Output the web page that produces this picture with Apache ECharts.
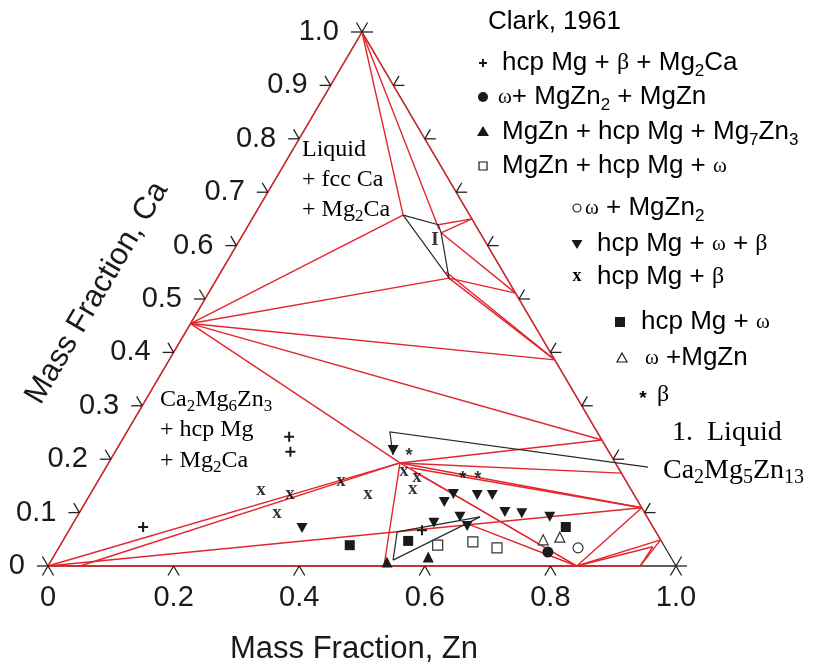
<!DOCTYPE html>
<html><head><meta charset="utf-8">
<script src="https://cdn.jsdelivr.net/npm/echarts@6/dist/echarts.min.js"></script>
<style>html,body{margin:0;padding:0;background:#fff}#c{width:822px;height:666px}</style>
</head><body><div id="c"></div>
<script>
// ---- compositions as [Zn, Ca] mass fractions ----
const leftTicks = [0, 0.1, 0.2, 0.3, 0.4, 0.5, 0.6, 0.7, 0.8, 0.9, 1.0];
const leftTickLabels = ['0', '0.1', '0.2', '0.3', '0.4', '0.5', '0.6', '0.7', '0.8', '0.9', '1.0'];
const bottomTicks = [0, 0.2, 0.4, 0.6, 0.8, 1.0];
const bottomTickLabels = ['0', '0.2', '0.4', '0.6', '0.8', '1.0'];
const rightTicks = [0, 0.1, 0.2, 0.3, 0.4, 0.5, 0.6, 0.7, 0.8, 0.9, 1.0];

const outline = [[0, 0], [1, 0], [0, 1], [0, 0]];

const redLines = [
  [[0, 1], [0, 0.454]], [[0, 0.454], [0, 0]],
  [[0, 1], [0.951, 0.049]],
  [[0, 0], [0.943, 0]],
  [[0, 1], [0.237, 0.657]],
  [[0, 1], [0.307, 0.631]],
  [[0.302, 0.639], [0.350, 0.650]],
  [[0.314, 0.624], [0.350, 0.650]],
  [[0.314, 0.624], [0.489, 0.511]],
  [[0.369, 0.539], [0.489, 0.511]],
  [[0.369, 0.539], [0.614, 0.386]],
  [[0.358, 0.551], [0.614, 0.386]],
  [[0, 0.454], [0.237, 0.657]],
  [[0, 0.454], [0.369, 0.539]],
  [[0, 0.454], [0.614, 0.386]],
  [[0, 0.454], [0.764, 0.236]],
  [[0, 0.454], [0.464, 0.193]],
  [[0, 0], [0.464, 0.193]],
  [[0.051, 0], [0.464, 0.193]],
  [[0, 0], [0.891, 0.109]],
  [[0.464, 0.193], [0.764, 0.236]],
  [[0.464, 0.193], [0.826, 0.174]],
  [[0.464, 0.193], [0.891, 0.109]],
  [[0.485, 0.184], [0.891, 0.109]],
  [[0.464, 0.193], [0.535, 0]],
  [[0.464, 0.193], [0.842, 0]],
  [[0.496, 0.176], [0.842, 0]],
  [[0.620, 0.082], [0.842, 0]],
  [[0.842, 0], [0.891, 0.109]],
  [[0.842, 0], [0.951, 0.049]],
  [[0.842, 0], [0.945, 0.036]],
  [[0.943, 0], [0.951, 0.049]],
  [[0.943, 0], [0.945, 0.036]]
];

const blackLines = [
  [[0.237, 0.657], [0.302, 0.639], [0.314, 0.624], [0.369, 0.539], [0.237, 0.657]],
  [[0.445, 0.208], [0.419, 0.251], [0.863, 0.185]],
  [[0.544, 0.011], [0.524, 0.064], [0.642, 0.092]],
  [[0.544, 0.011], [0.642, 0.092]]
];

const plusPts = [[0.263, 0.242], [0.279, 0.214], [0.115, 0.073], [0.562, 0.067]];
const circPts = [[0.783, 0.026]];
const triPts = [[0.536, 0.0075], [0.597, 0.017]];
const openSqPts = [[0.601, 0.039], [0.654, 0.045], [0.698, 0.034]];
const openCircPts = [[0.827, 0.034]];
const invTriPts = [[0.369, 0.071], [0.441, 0.217], [0.571, 0.120], [0.578, 0.135], [0.617, 0.133], [0.641, 0.133],
  [0.677, 0.101], [0.705, 0.099], [0.753, 0.092], [0.574, 0.081], [0.610, 0.092], [0.630, 0.075]];
const xPts = [[0.268, 0.142], [0.318, 0.135], [0.315, 0.099], [0.387, 0.159], [0.442, 0.135], [0.478, 0.178], [0.509, 0.144], [0.504, 0.167]];
const sqPts = [[0.461, 0.039], [0.550, 0.047], [0.788, 0.073]];
const openTriPts = [[0.764, 0.049], [0.788, 0.054]];
const starPts = [[0.472, 0.206], [0.579, 0.163], [0.603, 0.163]];

// ---- helpers ----
const SANS = '"Liberation Sans", Arial, Helvetica, sans-serif';
const SERIF = '"Liberation Serif", "Times New Roman", serif';
const RED = '#e3262c';
const INK = '#1a1a1a';
const T = p => [p[0] + p[1] / 2, p[1]];   // ternary (Zn, Ca) -> cartesian

function linesSeries(list, color, width, z) {
  return {
    type: 'lines', coordinateSystem: 'cartesian2d', polyline: true, silent: true, z: z, clip: false,
    lineStyle: { color: color, width: width, opacity: 1 },
    data: list.map(l => ({ coords: l.map(T) }))
  };
}

const L = 11;
const ux = 0.507 * L, uy = 0.862 * L;
function tickSeries(points, labels, dirs, ldx, ldy, align) {
  return {
    type: 'custom', coordinateSystem: 'cartesian2d', clip: false, silent: true, z: 6,
    encode: { x: 0, y: 1 },
    data: points,
    renderItem: function (params, api) {
      const p = api.coord([api.value(0), api.value(1)]);
      const ch = dirs.map(d => ({
        type: 'line', shape: { x1: p[0], y1: p[1], x2: p[0] + d[0], y2: p[1] + d[1] },
        style: { stroke: '#222', lineWidth: 1.3 }
      }));
      if (labels) {
        ch.push({
          type: 'text', x: p[0] + ldx, y: p[1] + ldy,
          style: { text: labels[params.dataIndex], fill: INK, fontSize: 29, fontFamily: SANS, align: align, verticalAlign: 'middle' }
        });
      }
      return { type: 'group', children: ch };
    }
  };
}

function scatter(pts, symbol, size, fill, stroke) {
  return {
    type: 'scatter', silent: true, z: 10, symbol: symbol, symbolSize: size,
    itemStyle: { color: fill, borderColor: stroke || fill, borderWidth: stroke ? 1.2 : 0, opacity: 1 },
    data: pts.map(T)
  };
}
function textScatter(pts, ch, font, fsize, offset) {
  return {
    type: 'scatter', silent: true, z: 11, symbol: 'circle', symbolSize: 1,
    itemStyle: { color: 'rgba(0,0,0,0)' },
    label: { show: true, position: 'inside', formatter: ch, fontFamily: font, fontSize: fsize, fontWeight: 'bold',
      color: '#000', textBorderWidth: 0, offset: offset },
    labelLayout: { hideOverlap: false },
    data: pts.map(T)
  };
}

// ---- legend & annotations ----
const rich = {
  t: { fontFamily: SANS, fontSize: 26, color: INK, lineHeight: 34, verticalAlign: 'middle' },
  s: { fontFamily: SANS, fontSize: 17, color: INK, lineHeight: 17, verticalAlign: 'bottom' },
  g: { fontFamily: SERIF, fontSize: 24, color: INK, lineHeight: 34, verticalAlign: 'middle' },
  w: { fontFamily: SERIF, fontSize: 21, color: INK, lineHeight: 34, verticalAlign: 'middle' },
  r: { fontFamily: SERIF, fontSize: 28, color: INK, lineHeight: 34, verticalAlign: 'middle' },
  rs: { fontFamily: SERIF, fontSize: 20, color: INK, lineHeight: 20, verticalAlign: 'bottom' },
  a: { fontFamily: SERIF, fontSize: 24, color: '#444', lineHeight: 30, verticalAlign: 'middle' },
  as: { fontFamily: SERIF, fontSize: 17, color: '#444', lineHeight: 15, verticalAlign: 'bottom' }
};
function rtext(x, y, text) {
  return { type: 'text', x: x, y: y, silent: true, z: 20,
    style: { text: text, rich: rich, verticalAlign: 'middle', align: 'left' } };
}
function sym(kind, x, y) {
  const k = { fill: INK };
  const o = { fill: '#fff', stroke: INK, lineWidth: 1.2 };
  switch (kind) {
    case 'plus': return { type: 'group', children: [
      { type: 'line', shape: { x1: x - 4, y1: y, x2: x + 4, y2: y }, style: { stroke: INK, lineWidth: 2 } },
      { type: 'line', shape: { x1: x, y1: y - 4, x2: x, y2: y + 4 }, style: { stroke: INK, lineWidth: 2 } }] };
    case 'circ': return { type: 'circle', shape: { cx: x, cy: y, r: 5 }, style: k };
    case 'tri': return { type: 'polygon', shape: { points: [[x, y - 6], [x + 6, y + 4], [x - 6, y + 4]] }, style: k };
    case 'osq': return { type: 'rect', shape: { x: x - 4, y: y - 4, width: 8, height: 8 }, style: o };
    case 'ocirc': return { type: 'circle', shape: { cx: x, cy: y, r: 4 }, style: o };
    case 'itri': return { type: 'polygon', shape: { points: [[x - 5.5, y - 4], [x + 5.5, y - 4], [x, y + 5]] }, style: k };
    case 'x': return { type: 'text', x: x, y: y - 1, style: { text: 'x', fontFamily: SERIF, fontSize: 18, fontWeight: 'bold', fill: '#000', align: 'center', verticalAlign: 'middle' } };
    case 'sq': return { type: 'rect', shape: { x: x - 5, y: y - 5, width: 10, height: 10 }, style: k };
    case 'otri': return { type: 'polygon', shape: { points: [[x, y - 5], [x + 5, y + 4], [x - 5, y + 4]] }, style: o };
    case 'star': return { type: 'text', x: x, y: y + 4, style: { text: '*', fontFamily: SANS, fontSize: 19, fontWeight: 'bold', fill: '#000', align: 'center', verticalAlign: 'middle' } };
  }
}
const legendItems = [
  ['plus', 483, 63, 502, '{t|hcp Mg + }{g|β}{t| + Mg}{s|2}{t|Ca}'],
  ['circ', 483, 97, 498, '{w|ω}{t|+ MgZn}{s|2}{t| + MgZn}'],
  ['tri', 483, 132, 502, '{t|MgZn + hcp Mg + Mg}{s|7}{t|Zn}{s|3}'],
  ['osq', 483, 166, 502, '{t|MgZn + hcp Mg + }{w|ω}'],
  ['ocirc', 577, 208, 585, '{w|ω}{t| + MgZn}{s|2}'],
  ['itri', 577, 244, 597, '{t|hcp Mg + }{w|ω}{t| + }{g|β}'],
  ['x', 577, 277, 597, '{t|hcp Mg + }{g|β}'],
  ['sq', 620, 322, 641, '{t|hcp Mg + }{w|ω}'],
  ['otri', 622, 358, 645, '{w|ω}{t| +MgZn}'],
  ['star', 643, 395, 657, '{g|β}']
];
const graphics = [
  rtext(488, 22, '{t|Clark, 1961}'),
  rtext(672, 433, '{r|1.  Liquid}'),
  rtext(663, 471, '{r|Ca}{rs|2}{r|Mg}{rs|5}{r|Zn}{rs|13}'),
  rtext(302, 150, '{a|Liquid}'),
  rtext(302, 180, '{a|+ fcc Ca}'),
  rtext(302, 210, '{a|+ Mg}{as|2}{a|Ca}'),
  rtext(160, 400, '{a|Ca}{as|2}{a|Mg}{as|6}{a|Zn}{as|3}'),
  rtext(160, 430, '{a|+ hcp Mg}'),
  rtext(160, 461, '{a|+ Mg}{as|2}{a|Ca}'),
  { type: 'text', x: 435, y: 240, silent: true, z: 20, style: { text: 'I', fontFamily: SERIF, fontSize: 19, fontWeight: 'bold', fill: '#333', align: 'center', verticalAlign: 'middle' } },
  { type: 'text', x: 354, y: 649, silent: true, z: 20, style: { text: 'Mass Fraction, Zn', fontFamily: SANS, fontSize: 31, fill: INK, align: 'center', verticalAlign: 'middle' } },
  { type: 'text', x: 97, y: 293, rotation: 59.5 * Math.PI / 180, silent: true, z: 20, style: { text: 'Mass Fraction, Ca', fontFamily: SANS, fontSize: 31, fill: INK, align: 'center', verticalAlign: 'middle' } }
];
legendItems.forEach(it => {
  const s = sym(it[0], it[1], it[2]); s.silent = true; s.z = 20;
  graphics.push(s);
  graphics.push(rtext(it[3], it[2], it[4]));
});

const chart = echarts.init(document.getElementById('c'), null, { renderer: 'canvas' });
chart.setOption({
  animation: false,
  backgroundColor: '#fff',
  grid: { left: 48, top: 32, width: 628, height: 534, containLabel: false },
  xAxis: { type: 'value', min: 0, max: 1, show: false },
  yAxis: { type: 'value', min: 0, max: 1, show: false },
  graphic: graphics,
  series: [
    linesSeries([outline], '#2a2a2a', 1.3, 1),
    linesSeries(redLines, RED, 1.4, 2),
    linesSeries(blackLines, '#2a2a2a', 1.2, 3),
    tickSeries(leftTicks.map(v => T([0, v])), leftTickLabels, [[-L, 0], [-ux, -uy]], -23, 0, 'right'),
    tickSeries(bottomTicks.map(v => T([v, 0])), bottomTickLabels, [[-ux, uy], [ux, uy]], 0, 32, 'center'),
    tickSeries(rightTicks.map(v => T([1 - v, v])), null, [[L, 0], [ux, -uy]], 0, 0, 'left'),
    scatter(plusPts, 'path://M4,0H6V4H10V6H6V10H4V6H0V4H4Z', 10, INK),
    scatter(circPts, 'circle', 11, INK),
    scatter(triPts, 'triangle', 11, INK),
    scatter(openSqPts, 'rect', 10, '#fff', '#333'),
    scatter(openCircPts, 'circle', 10, '#fff', '#333'),
    scatter(invTriPts, 'path://M0,0L10,0L5,9Z', [11, 10], INK),
    textScatter(xPts, 'x', SERIF, 19, [0, -2]),
    scatter(sqPts, 'rect', 10, INK),
    scatter(openTriPts, 'triangle', 10, '#fff', '#333'),
    textScatter(starPts, '*', SANS, 18, [0, 4])
  ]
});
</script></body></html>
